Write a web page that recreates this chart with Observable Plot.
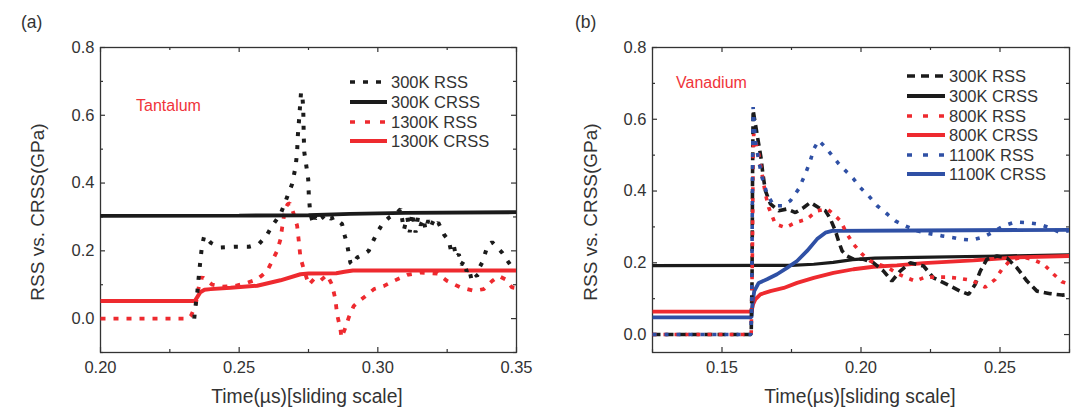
<!DOCTYPE html>
<html><head><meta charset="utf-8">
<script src="https://cdn.jsdelivr.net/npm/d3@7"></script>
<script src="https://cdn.jsdelivr.net/npm/@observablehq/plot@0.6"></script>
<style>
body{margin:0;background:#fff;}
#wrap{position:relative;width:1080px;height:416px;font-family:"Liberation Sans",Arial,sans-serif;color:#333;overflow:hidden;}
.abs{position:absolute;white-space:nowrap;line-height:1;}
.plot{position:absolute;top:0;}
</style></head><body><div id="wrap"></div>
<script>
// ---------- Panel (a) Tantalum ----------
const taRss300 = [[0.2338,0.0],[0.2342,0.032],[0.2349,0.077],[0.2354,0.121],[0.2360,0.170],[0.2366,0.215],[0.2374,0.244],[0.2397,0.224],[0.2433,0.210],[0.2481,0.212],[0.2535,0.212],[0.2571,0.220],[0.2598,0.244],[0.2619,0.274],[0.2649,0.308],[0.2673,0.359],[0.2691,0.397],[0.2703,0.446],[0.2709,0.490],[0.2711,0.534],[0.2715,0.576],[0.2719,0.621],[0.2723,0.667],[0.2727,0.667],[0.2731,0.621],[0.2733,0.534],[0.2735,0.490],[0.2743,0.446],[0.2749,0.411],[0.2751,0.367],[0.2755,0.323],[0.2760,0.300],[0.2765,0.285],[0.2770,0.305],[0.2775,0.295],[0.2780,0.300],[0.2790,0.290],[0.2800,0.300],[0.2810,0.292],[0.2820,0.302],[0.2830,0.295],[0.2845,0.300],[0.2858,0.288],[0.2871,0.279],[0.2881,0.244],[0.2889,0.220],[0.2901,0.165],[0.2910,0.158],[0.2925,0.180],[0.2949,0.190],[0.2967,0.200],[0.2980,0.224],[0.2998,0.254],[0.3016,0.279],[0.3040,0.298],[0.3070,0.313],[0.3082,0.323],[0.3094,0.262],[0.3106,0.300],[0.3115,0.255],[0.3124,0.312],[0.3136,0.254],[0.3145,0.300],[0.3154,0.275],[0.3165,0.295],[0.3172,0.262],[0.3182,0.290],[0.3190,0.270],[0.3200,0.288],[0.3208,0.274],[0.3218,0.283],[0.3226,0.270],[0.3238,0.249],[0.3256,0.229],[0.3264,0.200],[0.3274,0.215],[0.3283,0.180],[0.3292,0.190],[0.3301,0.158],[0.3310,0.170],[0.3320,0.140],[0.3328,0.150],[0.3337,0.118],[0.3346,0.135],[0.3358,0.125],[0.3366,0.150],[0.3376,0.165],[0.3394,0.210],[0.3412,0.226],[0.3430,0.210],[0.3448,0.195],[0.3466,0.172],[0.3484,0.152],[0.3500,0.145]];
const taCrss300 = [[0.20,0.303],[0.25,0.304],[0.275,0.305],[0.29,0.309],[0.31,0.312],[0.35,0.314]];
const taRss1300 = [[0.20,0],[0.2318,0],[0.2326,0.008],[0.2342,0.037],[0.2350,0.072],[0.2360,0.121],[0.2372,0.120],[0.2403,0.100],[0.2440,0.094],[0.2487,0.097],[0.2529,0.106],[0.2565,0.116],[0.2583,0.128],[0.2601,0.141],[0.2619,0.170],[0.2637,0.200],[0.2649,0.234],[0.2655,0.269],[0.2661,0.300],[0.2667,0.325],[0.2675,0.338],[0.2683,0.340],[0.2690,0.325],[0.2697,0.308],[0.2709,0.274],[0.2715,0.229],[0.2721,0.180],[0.2733,0.146],[0.2751,0.100],[0.2769,0.116],[0.2790,0.110],[0.2817,0.129],[0.2835,0.100],[0.2847,0.057],[0.2853,0.013],[0.2865,-0.031],[0.2869,-0.056],[0.2883,-0.027],[0.2895,0.003],[0.2913,0.037],[0.2930,0.050],[0.2949,0.062],[0.2986,0.087],[0.3021,0.096],[0.3057,0.111],[0.3106,0.129],[0.3154,0.136],[0.3215,0.133],[0.3250,0.111],[0.3298,0.092],[0.3346,0.082],[0.3382,0.087],[0.3412,0.111],[0.3436,0.126],[0.3460,0.116],[0.3484,0.092],[0.3500,0.090]];
const taCrss1300 = [[0.20,0.052],[0.2340,0.052],[0.2350,0.065],[0.2360,0.078],[0.2375,0.085],[0.2397,0.087],[0.2469,0.091],[0.2565,0.097],[0.2649,0.113],[0.2721,0.131],[0.2750,0.133],[0.2850,0.134],[0.2880,0.138],[0.2910,0.142],[0.3500,0.142]];

// ---------- Panel (b) Vanadium ----------
const vRss300 = [[0.125,0],[0.1605,0],[0.1608,0.15],[0.1610,0.45],[0.1612,0.625],[0.1620,0.587],[0.1632,0.531],[0.1640,0.494],[0.1647,0.448],[0.1656,0.401],[0.1674,0.364],[0.1704,0.345],[0.1734,0.350],[0.1764,0.340],[0.1794,0.354],[0.1818,0.368],[0.1847,0.354],[0.1872,0.345],[0.1890,0.322],[0.1908,0.289],[0.1919,0.261],[0.1932,0.233],[0.1950,0.219],[0.1973,0.210],[0.2009,0.210],[0.2045,0.200],[0.2081,0.177],[0.2111,0.149],[0.2141,0.177],[0.2177,0.200],[0.2225,0.191],[0.2261,0.158],[0.2309,0.140],[0.2357,0.121],[0.2387,0.112],[0.2411,0.140],[0.2429,0.177],[0.2453,0.210],[0.2489,0.219],[0.2525,0.213],[0.2561,0.186],[0.2597,0.149],[0.2633,0.121],[0.2681,0.114],[0.2723,0.110],[0.2750,0.112]];
const vCrss300 = [[0.125,0.192],[0.175,0.193],[0.183,0.196],[0.190,0.201],[0.197,0.209],[0.205,0.213],[0.220,0.215],[0.250,0.219],[0.275,0.222]];
const vRss800 = [[0.125,0],[0.1605,0],[0.1609,0.2],[0.1612,0.50],[0.1614,0.559],[0.1632,0.503],[0.1644,0.448],[0.1656,0.392],[0.1668,0.354],[0.1692,0.308],[0.1728,0.298],[0.1764,0.312],[0.1806,0.322],[0.1842,0.345],[0.1878,0.350],[0.1901,0.336],[0.1926,0.317],[0.1950,0.280],[0.1973,0.252],[0.2004,0.224],[0.2033,0.205],[0.2063,0.196],[0.2099,0.186],[0.2130,0.170],[0.2159,0.160],[0.2195,0.149],[0.2231,0.160],[0.2267,0.160],[0.2309,0.160],[0.2351,0.157],[0.2399,0.151],[0.2447,0.132],[0.2483,0.154],[0.2507,0.182],[0.2537,0.207],[0.2579,0.216],[0.2615,0.210],[0.2657,0.196],[0.2693,0.168],[0.2723,0.147],[0.2750,0.140]];
const vCrss800 = [[0.125,0.064],[0.1606,0.064],[0.1612,0.085],[0.1620,0.098],[0.1638,0.112],[0.1674,0.121],[0.1722,0.130],[0.1770,0.144],[0.1830,0.158],[0.1901,0.172],[0.1973,0.182],[0.2045,0.189],[0.2129,0.193],[0.2225,0.199],[0.2405,0.207],[0.2561,0.215],[0.2750,0.219]];
const vRss1100 = [[0.125,0],[0.1604,0],[0.1607,0.1],[0.1609,0.35],[0.1611,0.55],[0.1612,0.634],[0.1616,0.587],[0.1620,0.541],[0.1632,0.485],[0.1644,0.438],[0.1662,0.392],[0.1686,0.359],[0.1716,0.359],[0.1746,0.373],[0.1776,0.406],[0.1800,0.448],[0.1818,0.485],[0.1830,0.517],[0.1848,0.541],[0.1872,0.522],[0.1896,0.499],[0.1920,0.476],[0.1950,0.452],[0.1973,0.434],[0.1997,0.410],[0.2027,0.387],[0.2058,0.359],[0.2094,0.336],[0.2123,0.317],[0.2159,0.303],[0.2201,0.289],[0.2243,0.282],[0.2291,0.275],[0.2333,0.270],[0.2357,0.266],[0.2399,0.263],[0.2441,0.272],[0.2471,0.284],[0.2513,0.303],[0.2555,0.314],[0.2597,0.312],[0.2639,0.308],[0.2681,0.297],[0.2717,0.284],[0.2750,0.290]];
const vCrss1100 = [[0.125,0.048],[0.1606,0.048],[0.1610,0.09],[0.1616,0.121],[0.1632,0.144],[0.1662,0.154],[0.1698,0.168],[0.1734,0.186],[0.1770,0.205],[0.1806,0.233],[0.1842,0.266],[0.1872,0.284],[0.1896,0.289],[0.2200,0.290],[0.2750,0.292]];

// ---------- Tick values & labels ----------
const taXMajor = [0.20, 0.25, 0.30, 0.35];
const taXMinor = [0.225, 0.275, 0.325];
const vXMajor = [0.15, 0.20, 0.25];
const vXMinor = [0.125, 0.175, 0.225, 0.275];
const yMajor = [0.0, 0.2, 0.4, 0.6, 0.8];
const yMinorTa = [-0.1, 0.1, 0.3, 0.5, 0.7];
const yMinorV = [0.1, 0.3, 0.5, 0.7];

const BLACK = "#1b1b1b", RED = "#ee2a2f", BLUE = "#2f50a5";

function panel(o) {
  const W = 540, H = 416, mt = 47, mb = 64;
  const iw = W - o.ml - o.mr, ih = H - mt - mb;
  const tk = "#333";
  const marks = [
    Plot.frame({stroke: tk, strokeWidth: 1.3}),
    Plot.tickX(o.xMajor, {x: d => d, insetTop: ih - 5, stroke: tk, strokeWidth: 1.2}),
    Plot.tickX(o.xMajor, {x: d => d, insetBottom: ih - 5, stroke: tk, strokeWidth: 1.2}),
    Plot.tickX(o.xMinor, {x: d => d, insetTop: ih - 3, stroke: tk, strokeWidth: 1.2}),
    Plot.tickX(o.xMinor, {x: d => d, insetBottom: ih - 3, stroke: tk, strokeWidth: 1.2}),
    Plot.tickY(yMajor, {y: d => d, insetRight: iw - 5, stroke: tk, strokeWidth: 1.2}),
    Plot.tickY(yMajor, {y: d => d, insetLeft: iw - 5, stroke: tk, strokeWidth: 1.2}),
    Plot.tickY(o.yMinor, {y: d => d, insetRight: iw - 3, stroke: tk, strokeWidth: 1.2}),
    Plot.tickY(o.yMinor, {y: d => d, insetLeft: iw - 3, stroke: tk, strokeWidth: 1.2}),
    Plot.axisX(o.xMajor, {tickSize: 0, tickPadding: 9, tickFormat: d3.format(".2f"), label: null, fill: tk}),
    Plot.axisY(yMajor, {tickSize: 0, tickPadding: 6, tickFormat: d3.format(".1f"), label: null, fill: tk})
  ];
  for (const s of o.series) {
    marks.push(Plot.line(s.data, {x: d => d[0], y: d => d[1], stroke: s.color, strokeWidth: s.w,
      strokeDasharray: s.dash || null, strokeLinecap: "butt", strokeLinejoin: "miter", clip: true}));
  }
  return Plot.plot({
    width: W, height: H, marginLeft: o.ml, marginRight: o.mr, marginTop: mt, marginBottom: mb,
    x: {domain: o.xDomain}, y: {domain: o.yDomain},
    style: {fontSize: "16.5px", fontFamily: '"Liberation Sans", Arial, sans-serif', background: "transparent", overflow: "visible"},
    marks
  });
}

const taSeries = [
  {name: "300K RSS", data: taRss300, color: BLACK, w: 4, dash: "4,9", lg: "5,8", order: 3},
  {name: "300K CRSS", data: taCrss300, color: BLACK, w: 3.8, order: 2},
  {name: "1300K RSS", data: taRss1300, color: RED, w: 3.8, dash: "5,8", lg: "5,10", order: 0},
  {name: "1300K CRSS", data: taCrss1300, color: RED, w: 4, order: 1}
];
const vSeries = [
  {name: "300K RSS", data: vRss300, color: BLACK, w: 3.6, dash: "8,5", lg: "8,6", order: 3},
  {name: "300K CRSS", data: vCrss300, color: BLACK, w: 3.2, order: 0},
  {name: "800K RSS", data: vRss800, color: RED, w: 3.6, dash: "4,7", lg: "5,11", order: 4},
  {name: "800K CRSS", data: vCrss800, color: RED, w: 3.8, order: 1},
  {name: "1100K RSS", data: vRss1100, color: BLUE, w: 3.6, dash: "4,8", lg: "5,11", order: 5},
  {name: "1100K CRSS", data: vCrss1100, color: BLUE, w: 3.8, order: 2}
];

const wrap = document.getElementById("wrap");
const pa = panel({xDomain: [0.20, 0.35], yDomain: [-0.1, 0.8], xMajor: taXMajor, xMinor: taXMinor, yMinor: yMinorTa,
  ml: 100, mr: 24, series: taSeries.slice().sort((a, b) => a.order - b.order)});
pa.classList.add("plot"); pa.style.left = "0px"; wrap.appendChild(pa);
const pb = panel({xDomain: [0.125, 0.275], yDomain: [-0.05, 0.8], xMajor: vXMajor, xMinor: vXMinor, yMinor: yMinorV,
  ml: 112, mr: 11, series: vSeries.slice().sort((a, b) => a.order - b.order)});
pb.classList.add("plot"); pb.style.left = "540px"; wrap.appendChild(pb);

function addText(txt, x, cy, size, color) {
  const d = document.createElement("div");
  d.className = "abs"; d.textContent = txt;
  d.style.left = x + "px"; d.style.top = (cy - 0.49 * size) + "px";
  d.style.fontSize = size + "px"; d.style.color = color;
  wrap.appendChild(d); return d;
}
function addCentered(txt, cx, cy, size, color, rotate) {
  const d = document.createElement("div");
  d.className = "abs"; d.textContent = txt;
  d.style.fontSize = size + "px"; d.style.color = color;
  d.style.left = cx + "px"; d.style.top = cy + "px";
  d.style.transform = "translate(-50%,-50%)" + (rotate ? " rotate(-90deg)" : "");
  d.style.lineHeight = "1.15";
  wrap.appendChild(d); return d;
}
addText("(a)", 21, 23, 17.5, "#333");
addText("(b)", 575, 23, 17.5, "#333");
addCentered("RSS vs. CRSS(GPa)", 38, 212, 19, "#333", true);
addCentered("RSS vs. CRSS(GPa)", 591, 212, 19, "#333", true);
addCentered("Time(\u00b5s)[sliding scale]", 307, 397, 19.3, "#333", false);
addCentered("Time(\u00b5s)[sliding scale]", 860, 397, 19.3, "#333", false);
addText("Tantalum", 136, 106, 16, "#f0333a");
addText("Vanadium", 676, 83, 16, "#f0333a");

function legend(series, x0, x1, tx, rows) {
  series.forEach((s, i) => {
    const y = rows[i];
    const svg = d3.create("svg").attr("width", x1 - x0 + 2).attr("height", 10)
      .style("position", "absolute").style("left", (x0 - 1) + "px").style("top", (y - 5) + "px");
    svg.append("line").attr("x1", 1).attr("x2", x1 - x0 + 1).attr("y1", 5).attr("y2", 5)
      .attr("stroke", s.color).attr("stroke-width", s.dash ? 3.6 : 4)
      .attr("stroke-dasharray", s.lg || null);
    wrap.appendChild(svg.node());
    addText(s.name, tx, y, 16.5, "#333");
  });
}
legend(taSeries, 350, 387, 391, [82.3, 102.3, 121.7, 141]);
legend(vSeries, 907, 945, 949, [76, 95.7, 115.7, 135, 155, 174.3]);
</script></body></html>
